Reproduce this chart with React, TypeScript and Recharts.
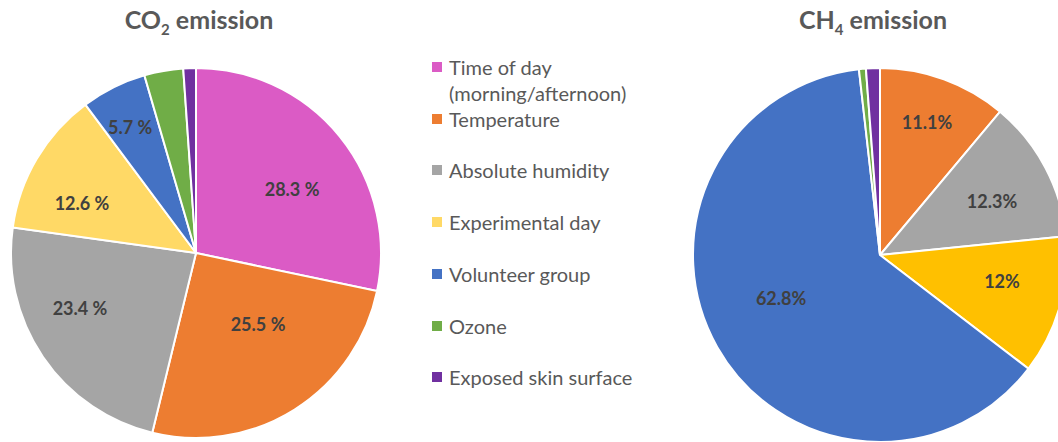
import { PieChart, Pie, Cell } from "recharts";

const co2Factors = [
  "Time of day (morning/afternoon)",
  "Temperature",
  "Absolute humidity",
  "Experimental day",
  "Volunteer group",
  "Ozone",
  "Exposed skin surface",
];
const co2Values = [28.3, 25.5, 23.4, 12.6, 5.7, 3.4, 1.1];
const co2Labels = ["28.3 %", "25.5 %", "23.4 %", "12.6 %", "5.7 %", "", ""];
const co2Colors = ["#DB5BC5", "#ED7D31", "#A5A5A5", "#FFD966", "#4472C4", "#70AD47", "#7030A0"];

const ch4Factors = [
  "Temperature",
  "Absolute humidity",
  "Experimental day",
  "Volunteer group",
  "Ozone",
  "Exposed skin surface",
];
const ch4Values = [11.1, 12.3, 12.0, 62.8, 0.6, 1.2];
const ch4Labels = ["11.1%", "12.3%", "12%", "62.8%", "", ""];
const ch4Colors = ["#ED7D31", "#A5A5A5", "#FFC000", "#4472C4", "#70AD47", "#7030A0"];

const legendNames = [
  "Time of day\n(morning/afternoon)",
  "Temperature",
  "Absolute humidity",
  "Experimental day",
  "Volunteer group",
  "Ozone",
  "Exposed skin surface",
];
const legendColors = ["#DB5BC5", "#ED7D31", "#A5A5A5", "#FFD966", "#4472C4", "#70AD47", "#7030A0"];

// label placement like Excel's best fit: fraction of radius, and a nudge off the mid angle (deg, clockwise)
const co2LabelR = [0.624, 0.51, 0.694, 0.673, 0.769, 0.7, 0.7];
const co2LabelShift = [5.4, -8.9, 8.8, -6.9, -1.1, 0, 0];
const ch4LabelR = [0.754, 0.665, 0.667, 0.577, 0.7, 0.7];
const ch4LabelShift = [-0.5, 2.2, -3.8, 6, 0, 0];

const co2Data = co2Factors.map((name, i) => ({ name, value: co2Values[i], label: co2Labels[i] }));
const ch4Data = ch4Factors.map((name, i) => ({ name, value: ch4Values[i], label: ch4Labels[i] }));

const FONT = "Lato, 'Open Sans', sans-serif";
const RAD = Math.PI / 180;

function makeLabel(labels: string[], radii: number[], shifts: number[]) {
  return (props: any) => {
    const { cx, cy, midAngle, outerRadius, index } = props;
    if (!labels[index]) return null;
    const r = outerRadius * radii[index];
    // recharts angles go counter-clockwise, so a clockwise nudge is subtracted
    const a = (midAngle - shifts[index]) * RAD;
    const x = cx + r * Math.cos(-a);
    const y = cy + r * Math.sin(-a);
    return (
      <text
        x={x}
        y={y}
        textAnchor="middle"
        dominantBaseline="central"
        fill="#404040"
        fontSize={18}
        fontWeight={700}
        fontFamily={FONT}
      >
        {labels[index]}
      </text>
    );
  };
}

export default function App() {
  return (
    <div style={{ position: "absolute", left: 0, top: 0, width: 1058, height: 442, background: "#fff", overflow: "hidden" }}>
      <PieChart width={1058} height={442} margin={{ top: 0, right: 0, bottom: 0, left: 0 }}>
        <Pie
          data={co2Data}
          dataKey="value"
          cx={196}
          cy={253}
          outerRadius={185}
          startAngle={90}
          endAngle={-270}
          stroke="#fff"
          strokeWidth={2}
          labelLine={false}
          label={makeLabel(co2Labels, co2LabelR, co2LabelShift)}
          isAnimationActive={false}
        >
          {co2Data.map((d, i) => (
            <Cell key={d.name} fill={co2Colors[i]} />
          ))}
        </Pie>
        <Pie
          data={ch4Data}
          dataKey="value"
          cx={880}
          cy={255}
          outerRadius={187}
          startAngle={90}
          endAngle={-270}
          stroke="#fff"
          strokeWidth={2}
          labelLine={false}
          label={makeLabel(ch4Labels, ch4LabelR, ch4LabelShift)}
          isAnimationActive={false}
        >
          {ch4Data.map((d, i) => (
            <Cell key={d.name} fill={ch4Colors[i]} />
          ))}
        </Pie>
      </PieChart>

      <div style={{ position: "absolute", left: 99, width: 200, top: 4, textAlign: "center", fontFamily: FONT, fontWeight: 700, fontSize: 25, color: "#595959" }}>
        CO<sub style={{ fontSize: 15 }}>2</sub> emission
      </div>
      <div style={{ position: "absolute", left: 773, width: 200, top: 4, textAlign: "center", fontFamily: FONT, fontWeight: 700, fontSize: 25, color: "#595959" }}>
        CH<sub style={{ fontSize: 15 }}>4</sub> emission
      </div>

      {legendNames.map((name, i) => (
        <div
          key={name}
          style={{
            position: "absolute",
            left: 432,
            top: 54 + i * 51.7,
            display: "flex",
            alignItems: "flex-start",
            fontFamily: FONT,
            fontSize: 20,
            lineHeight: "26px",
            color: "#595959",
            whiteSpace: "pre",
          }}
        >
          <span style={{ width: 10, height: 10, background: legendColors[i], marginTop: 8, marginRight: 7, flexShrink: 0 }} />
          <span>{name}</span>
        </div>
      ))}
    </div>
  );
}
